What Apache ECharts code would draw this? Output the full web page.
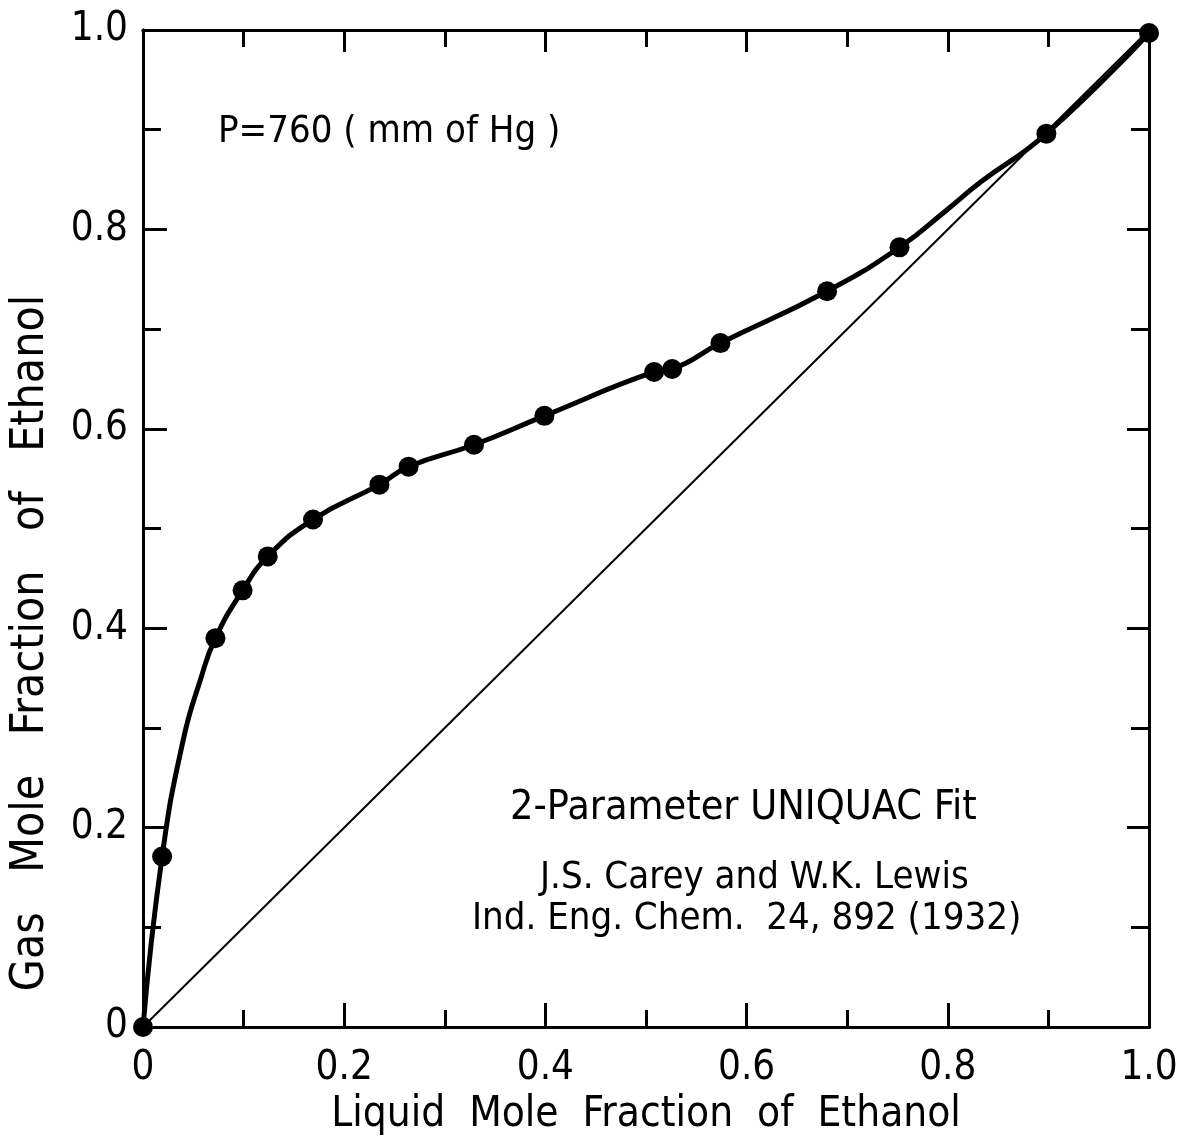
<!DOCTYPE html>
<html>
<head>
<meta charset="utf-8">
<title>Ethanol vapor-liquid equilibrium</title>
<script src="https://cdn.jsdelivr.net/npm/echarts@6/dist/echarts.min.js"></script>
<style>
  html, body { margin: 0; padding: 0; background: #ffffff; }
  #chart { width: 1184px; height: 1136px; }
</style>
</head>
<body>
<div id="chart"></div>
<script>
// Measured equilibrium points (Carey & Lewis, 1932), P = 760 mm Hg
const liquidX = [0, 0.019, 0.072, 0.099, 0.124, 0.169, 0.235, 0.264, 0.329, 0.399, 0.508, 0.526, 0.574, 0.680, 0.752, 0.898, 1.0];
const gasY    = [0, 0.171, 0.390, 0.438, 0.472, 0.509, 0.544, 0.562, 0.584, 0.613, 0.657, 0.660, 0.686, 0.738, 0.782, 0.896, 0.997];

// 2-parameter UNIQUAC fit curve
const fitX = [0, 0.019, 0.040, 0.057, 0.072, 0.099, 0.124, 0.169, 0.235, 0.264, 0.329, 0.399, 0.508, 0.526, 0.574, 0.680, 0.752, 0.799, 0.832, 0.898, 1.0];
const fitY = [0, 0.171, 0.288, 0.348, 0.390, 0.438, 0.472, 0.509, 0.544, 0.562, 0.584, 0.613, 0.657, 0.660, 0.686, 0.738, 0.782, 0.8195, 0.847, 0.896, 0.997];

// y = x reference line
const diagX = [0, 1];
const diagY = [0, 1];

// Tick labels (labels only on every other tick)
const xTickLabels = ['0', '0.2', '0.4', '0.6', '0.8', '1.0'];
const yTickLabels = ['0', '0.2', '0.4', '0.6', '0.8', '1.0'];

const FONT = '"DejaVu Sans Condensed", "DejaVu Sans", sans-serif';
const INK = '#000000';
const PLOT = { left: 143, top: 30, right: 35, bottom: 109, containLabel: false, outerBoundsMode: 'none' };

function zip(a, b) { return a.map((v, i) => [v, b[i]]); }
function tickText(labels) {
  return function (v) {
    const i = Math.round(v / 0.2);
    return labels[i] !== undefined ? labels[i] : '';
  };
}

// Frame axis with inward ticks; grid 0 carries the 0.2 ticks, grid 1 the 0.1 ticks
function frameAxis(gridIndex, position, interval, tickLen, extra) {
  return Object.assign({
    gridIndex: gridIndex,
    type: 'value', min: 0, max: 1, interval: interval,
    position: position,
    axisLine: { show: true, onZero: false, lineStyle: { color: INK, width: 3 } },
    axisTick: { show: true, inside: true, length: tickLen, lineStyle: { color: INK, width: 3 } },
    axisLabel: { show: false },
    splitLine: { show: false }
  }, extra || {});
}

const chart = echarts.init(document.getElementById('chart'), null, { renderer: 'canvas' });

chart.setOption({
  backgroundColor: '#ffffff',
  animation: false,
  grid: [PLOT, PLOT],
  xAxis: [
    frameAxis(0, 'bottom', 0.2, 24, {
      name: 'Liquid  Mole  Fraction  of  Ethanol',
      nameLocation: 'middle',
      nameGap: 63,
      nameTextStyle: { fontFamily: FONT, fontSize: 42, color: INK },
      axisLabel: { show: true, margin: 22, fontFamily: FONT, fontSize: 40, color: INK, formatter: tickText(xTickLabels) }
    }),
    frameAxis(0, 'top', 0.2, 22),
    frameAxis(1, 'bottom', 0.1, 17),
    frameAxis(1, 'top', 0.1, 17)
  ],
  yAxis: [
    frameAxis(0, 'left', 0.2, 24, {
      axisLabel: { show: true, margin: 15, fontFamily: FONT, fontSize: 40, color: INK, formatter: tickText(yTickLabels) }
    }),
    frameAxis(0, 'right', 0.2, 22),
    frameAxis(1, 'left', 0.1, 18),
    frameAxis(1, 'right', 0.1, 18)
  ],
  series: [
    {
      name: 'y = x',
      type: 'line',
      xAxisIndex: 0, yAxisIndex: 0,
      data: zip(diagX, diagY),
      symbol: 'none',
      lineStyle: { color: INK, width: 2 },
      z: 2
    },
    {
      name: 'UNIQUAC fit',
      type: 'line',
      xAxisIndex: 0, yAxisIndex: 0,
      data: zip(fitX, fitY),
      smooth: 0.5,
      symbol: 'none',
      lineStyle: { color: INK, width: 5 },
      z: 3
    },
    {
      name: 'Carey and Lewis',
      type: 'scatter',
      xAxisIndex: 0, yAxisIndex: 0,
      data: zip(liquidX, gasY),
      symbol: 'circle',
      symbolSize: 20,
      itemStyle: { color: INK, opacity: 1 },
      z: 4
    }
  ],
  graphic: [
    {
      type: 'text', x: 31, y: 643, rotation: Math.PI / 2,
      style: { text: 'Gas   Mole   Fraction   of   Ethanol', font: '46px ' + FONT, fill: INK, align: 'center', verticalAlign: 'middle' }
    },
    { type: 'text', left: 218, top: 113, style: { text: 'P=760 ( mm of Hg )', font: '38px ' + FONT, fill: INK } },
    { type: 'text', left: 510, top: 788, style: { text: '2-Parameter UNIQUAC Fit', font: '41px ' + FONT, fill: INK } },
    { type: 'text', left: 540, top: 859, style: { text: 'J.S. Carey and W.K. Lewis', font: '38px ' + FONT, fill: INK } },
    { type: 'text', left: 472, top: 900, style: { text: 'Ind. Eng. Chem.  24, 892 (1932)', font: '38px ' + FONT, fill: INK } }
  ]
});
</script>
</body>
</html>
